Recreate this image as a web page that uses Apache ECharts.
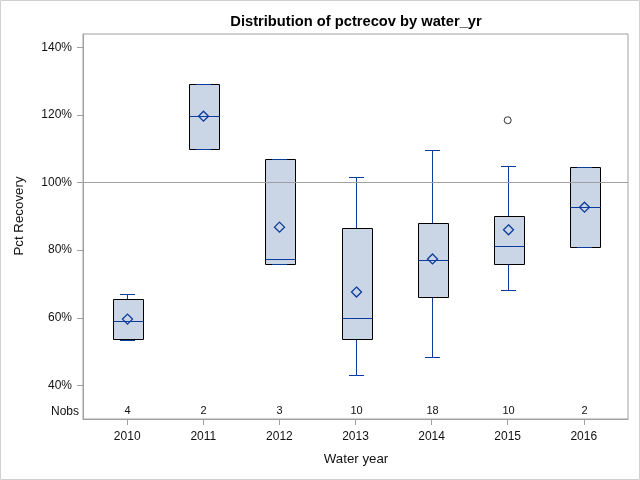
<!DOCTYPE html>
<html><head><meta charset="utf-8">
<script src="https://cdn.jsdelivr.net/npm/echarts@6/dist/echarts.min.js"></script>
<style>html,body{margin:0;padding:0;background:#fff}#c{width:640px;height:480px}</style>
</head><body><div id="c"></div>
<script>
const years = [2010, 2011, 2012, 2013, 2014, 2015, 2016];
const whiskerLow = [53.5, 109.8, 75.9, 43.1, 48.4, 68.2, 81.0];
const q1 = [53.7, 109.8, 75.9, 53.7, 66.1, 76.0, 81.0];
const median = [58.9, 119.6, 77.3, 59.9, 77.0, 81.3, 92.7];
const q3 = [65.5, 129.0, 106.9, 86.5, 88.0, 90.0, 104.5];
const whiskerHigh = [67.0, 129.0, 106.9, 101.6, 109.5, 104.8, 104.5];
const means = [59.6, 119.6, 86.8, 67.6, 77.4, 86.0, 92.7];
const nobs = [4, 2, 3, 10, 18, 10, 2];
const outliers = [[2015, 118.4]];
const yTicks = [40, 60, 80, 100, 120, 140];
const refLine = 100;

const FONT = '"Liberation Sans", Arial, sans-serif';
const BLUE = '#0b3c9c';
const GRAY = '#a0a0a0';
const chart = echarts.init(document.getElementById('c'), null, {renderer: 'canvas'});

function px(v) { return Math.round(v) + 0.5; }

function renderBox(params, api) {
  const x = api.value(0);
  const c = v => api.coord([x, v]);
  const bw = Math.round(api.size([0.394, 0])[0]);
  const cap = Math.round(bw / 2);
  const pLo = c(api.value(1)), pQ1 = c(api.value(2)), pMed = c(api.value(3));
  const pQ3 = c(api.value(4)), pHi = c(api.value(5)), pMean = c(api.value(6));
  const cx = px(pMed[0]);
  const L = (x1, y1, x2, y2, col) => ({type: 'line', shape: {x1, y1, x2, y2}, style: {stroke: col, lineWidth: 1}});
  const left = Math.round(cx - bw / 2) + 0.5, right = left + bw;
  const yq3 = px(pQ3[1]), yq1 = px(pQ1[1]);
  const cs = params.coordSys;
  const my = pMean[1], d = 5;
  return {
    type: 'group',
    children: [
      L(cx, yq3, cx, px(pHi[1]), BLUE),
      L(cx, yq1, cx, px(pLo[1]), BLUE),
      {type: 'rect', shape: {x: left, y: yq3, width: bw, height: yq1 - yq3}, style: {fill: '#cad5e5', stroke: '#000', lineWidth: 1}},
      L(left, px(pMed[1]), right, px(pMed[1]), BLUE),
      L(cx - cap / 2, px(pHi[1]), cx + cap / 2, px(pHi[1]), BLUE),
      L(cx - cap / 2, px(pLo[1]), cx + cap / 2, px(pLo[1]), BLUE),
      {type: 'polygon', shape: {points: [[cx, my - d], [cx + d, my], [cx, my + d], [cx - d, my]]}, style: {fill: 'none', stroke: BLUE, lineWidth: 1.3}},
      {type: 'text', x: cx, y: cs.y + cs.height - 8, style: {text: String(api.value(7)), fill: '#111', font: '11px ' + FONT, align: 'center', verticalAlign: 'middle'}}
    ]
  };
}

const boxData = years.map((y, i) => [y, whiskerLow[i], q1[i], median[i], q3[i], whiskerHigh[i], means[i], nobs[i]]);

chart.setOption({
  animation: false,
  backgroundColor: '#fff',
  grid: {left: 83, top: 34, width: 545, height: 385, show: true, borderColor: GRAY, borderWidth: 1, containLabel: false},
  xAxis: {
    type: 'value', min: 2009.419, max: 2016.581,
    axisLine: {show: true, lineStyle: {color: GRAY}},
    axisTick: {show: true, length: 6, customValues: years, lineStyle: {color: GRAY}},
    axisLabel: {customValues: years, formatter: v => String(v), color: '#111', fontSize: 12, fontFamily: FONT, margin: 12},
    splitLine: {show: false}
  },
  yAxis: {
    type: 'value', min: 30.07, max: 143.9,
    axisLine: {show: true, lineStyle: {color: GRAY}},
    axisTick: {show: true, length: 6, customValues: yTicks, lineStyle: {color: GRAY}},
    axisLabel: {customValues: yTicks, formatter: v => v + '%', color: '#111', fontSize: 12, fontFamily: FONT, margin: 11},
    splitLine: {show: false}
  },
  graphic: [
    {type: 'rect', shape: {x: 0.5, y: 0.5, width: 639, height: 479}, style: {fill: 'none', stroke: '#d0d0d0', lineWidth: 1}, silent: true, z: -1},
    {type: 'text', x: 356, y: 22, style: {text: 'Distribution of pctrecov by water_yr', font: 'bold 14.7px ' + FONT, fill: '#000', align: 'center', verticalAlign: 'middle'}},
    {type: 'text', x: 356, y: 459, style: {text: 'Water year', font: '13.3px ' + FONT, fill: '#111', align: 'center', verticalAlign: 'middle'}},
    {type: 'text', x: 19, y: 216, rotation: Math.PI / 2, style: {text: 'Pct Recovery', font: '13.3px ' + FONT, fill: '#111', align: 'center', verticalAlign: 'middle'}},
    {type: 'text', x: 79, y: 411.5, style: {text: 'Nobs', font: '12px ' + FONT, fill: '#111', align: 'right', verticalAlign: 'middle'}}
  ],
  series: [
    {type: 'custom', renderItem: renderBox, data: boxData, encode: {x: 0, y: [1, 2, 3, 4, 5, 6]}, z: 2, clip: false},
    {type: 'scatter', data: outliers, symbol: 'circle', symbolSize: 7,
      itemStyle: {color: '#fff', borderColor: '#000', borderWidth: 1}, z: 3},
    {type: 'line', data: [], z: 4,
      markLine: {silent: true, symbol: ['none', 'none'], label: {show: false},
        lineStyle: {color: GRAY, type: 'solid', width: 1}, data: [{yAxis: refLine}]}}
  ]
});
</script></body></html>
